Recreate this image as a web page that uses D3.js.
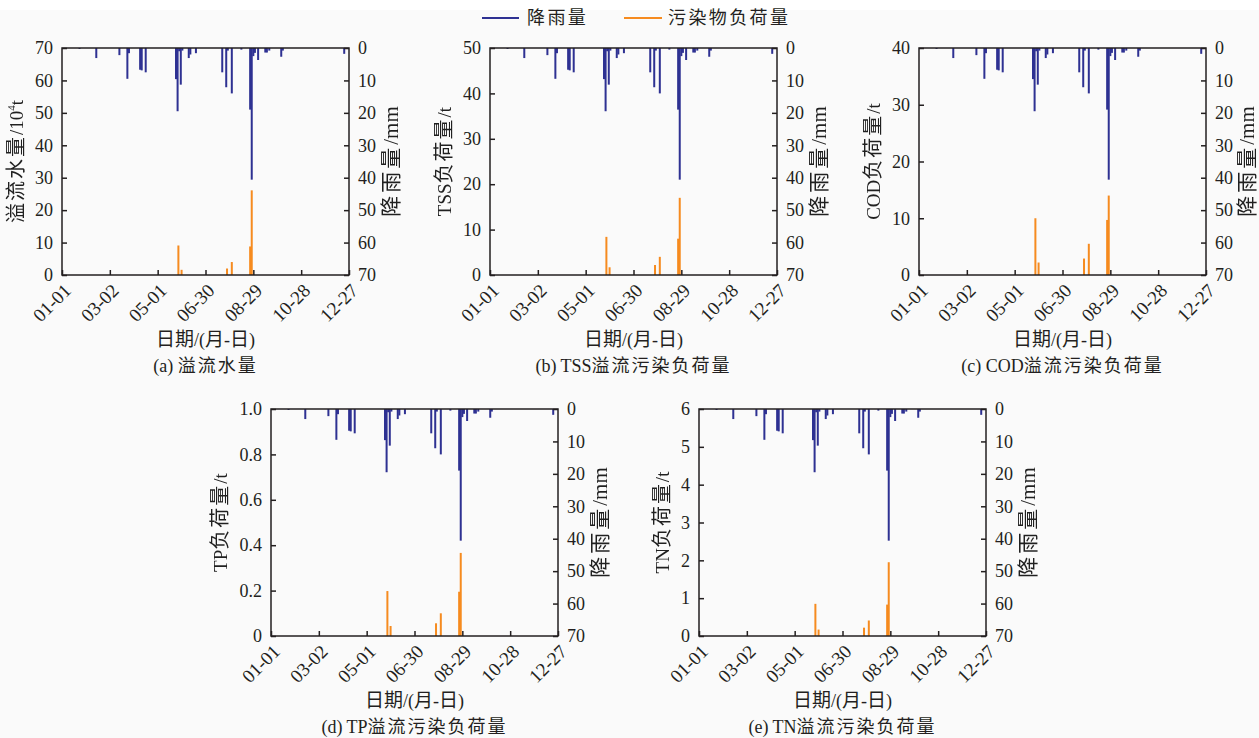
<!DOCTYPE html>
<html><head><meta charset="utf-8">
<script src="https://cdn.jsdelivr.net/npm/d3@7/dist/d3.min.js"></script>
<style>body{margin:0;background:#fafafa} svg{display:block}</style>
</head><body><svg id="c" width="1259" height="738"></svg>
<script>
// ---- data ----
const xTickDays = [0, 60, 120, 180, 240, 300, 360];
const xTickLabels = ["01-01", "03-02", "05-01", "06-30", "08-29", "10-28", "12-27"];
const rainTicks = [0, 10, 20, 30, 40, 50, 60, 70];
// day of year (0 = 01-01) and daily rainfall (mm)
const rainDays = [22, 43, 72, 82, 84, 98, 100, 105, 143, 145, 147, 149, 151, 159, 161, 168,
                  201, 206, 208, 213, 225, 236, 238, 240, 242, 246, 255, 257, 260, 275, 277, 354];
const rainMM   = [0.3, 3.1, 2.2, 9.5, 1.6, 6.7, 6.9, 7.5, 9.6, 19.5, 1.0, 11.3, 0.8, 3.1, 2.0, 1.6,
                  7.5, 12.1, 0.8, 14.0, 0.5, 19.0, 40.6, 2.5, 1.5, 3.7, 1.4, 1.4, 0.8, 2.7, 0.8, 1.8];
// overflow events
const loadDays = [146, 150, 207, 213, 236, 238];
const overflowWater = [9.1, 1.6, 2.0, 4.0, 8.8, 26.1];   // 10^4 t
const tssLoad = [8.4, 1.7, 2.2, 4.0, 8.0, 17.0];          // t
const codLoad = [10.0, 2.2, 2.9, 5.5, 9.7, 14.0];         // t
const tpLoad  = [0.198, 0.044, 0.056, 0.10, 0.195, 0.366];// t
const tnLoad  = [0.85, 0.17, 0.22, 0.41, 0.83, 1.95];     // t

const legendNames = ["降雨量", "污染物负荷量"];
const xTitle = "日期/(月-日)";
const rainTitle = "降雨量/mm";

const panels = [
  {left: 62,  top: 48,  yMax: 70, yTicks: [0,10,20,30,40,50,60,70], fmt: d => d, ylabel: ["溢流水量/10", "4", "t"], title: "(a) 溢流水量", values: overflowWater},
  {left: 490, top: 48,  yMax: 50, yTicks: [0,10,20,30,40,50], fmt: d => d, ylabel: ["TSS负荷量/t"], title: "(b) TSS溢流污染负荷量", values: tssLoad},
  {left: 919, top: 48,  yMax: 40, yTicks: [0,10,20,30,40], fmt: d => d, ylabel: ["COD负荷量/t"], title: "(c) COD溢流污染负荷量", values: codLoad},
  {left: 271, top: 409, yMax: 1.0, yTicks: [0,0.2,0.4,0.6,0.8,1.0], fmt: d => d === 0 ? "0" : d3.format(".1f")(d), ylabel: ["TP负荷量/t"], title: "(d) TP溢流污染负荷量", values: tpLoad},
  {left: 699, top: 409, yMax: 6, yTicks: [0,1,2,3,4,5,6], fmt: d => d, ylabel: ["TN负荷量/t"], title: "(e) TN溢流污染负荷量", values: tnLoad}
];

const W = 287, H = 227;
const BLUE = "#2e3192", ORANGE = "#f68b1f", INK = "#231f20";
const SERIF = "'Liberation Serif','Times New Roman',serif";
const CJK = "'Noto Sans CJK SC','Noto Sans CJK TC',sans-serif";
const cjkRe = /[\u3000-\u9fff\uff00-\uffef]+|[^\u3000-\u9fff\uff00-\uffef]+/g;
const isCJK = s => /[\u3000-\u9fff\uff00-\uffef]/.test(s);

// add text as runs: CJK runs in CJK font, Latin runs in serif
function runs(sel, str, cjkSize, latSize, cjkSpacing) {
  (str.match(cjkRe) || []).forEach(r => {
    const c = isCJK(r);
    sel.append("tspan")
      .attr("font-family", c ? CJK : SERIF)
      .attr("font-size", c ? cjkSize : latSize)
      .attr("letter-spacing", c ? cjkSpacing : 0)
      .text(r);
  });
}

const svg = d3.select("#c");
// grayscale filter for rotated labels (avoids colour fringes)
const defs = svg.append("defs");
defs.append("filter").attr("id", "gray").attr("x", "-10%").attr("y", "-10%").attr("width", "120%").attr("height", "120%")
  .append("feColorMatrix").attr("type", "saturate").attr("values", 0);

svg.append("rect").attr("width", 1259).attr("height", 738).attr("fill", "#fafafa");
svg.append("rect").attr("width", 1259).attr("height", 10).attr("fill", "#ffffff");

// legend
const lg = svg.append("g").attr("fill", INK);
[[482, 519, 527, BLUE], [624, 662, 668, ORANGE]].forEach((p, i) => {
  lg.append("line").attr("x1", p[0]).attr("x2", p[1]).attr("y1", 18).attr("y2", 18)
    .attr("stroke", p[3]).attr("stroke-width", 2);
  const t = lg.append("text").attr("x", p[2]).attr("y", 18).attr("dy", "0.35em");
  runs(t, legendNames[i], 18, 18, 2.4);
});

panels.forEach(p => {
  const g = svg.append("g").attr("transform", `translate(${p.left},${p.top})`)
    .attr("font-family", SERIF).attr("fill", INK);
  const x = d3.scaleLinear().domain([0, 360]).range([0, W]);
  const y = d3.scaleLinear().domain([0, p.yMax]).range([H, 0]);
  const yr = d3.scaleLinear().domain([0, 70]).range([0, H]);
  const bw = 2;

  // rainfall bars hanging from top
  g.append("g").selectAll("rect").data(rainDays.map((d, i) => ({d, v: rainMM[i]})))
    .join("rect")
    .attr("x", d => x(d.d) - bw / 2).attr("y", 0)
    .attr("width", bw).attr("height", d => yr(d.v))
    .attr("fill", BLUE);

  // load bars from bottom
  g.append("g").selectAll("rect").data(loadDays.map((d, i) => ({d, v: p.values[i]})))
    .join("rect")
    .attr("x", d => x(d.d) - bw / 2).attr("y", d => y(d.v))
    .attr("width", bw).attr("height", d => H - y(d.v))
    .attr("fill", ORANGE);

  // frame
  g.append("rect").attr("width", W).attr("height", H).attr("fill", "none")
    .attr("stroke", INK).attr("stroke-width", 1.5);

  // left axis
  const ya = g.append("g").call(d3.axisLeft(y).tickValues(p.yTicks).tickFormat(p.fmt)
    .tickSizeInner(-5).tickSizeOuter(0).tickPadding(9));
  // right axis
  const yra = g.append("g").attr("transform", `translate(${W},0)`)
    .call(d3.axisRight(yr).tickValues(rainTicks).tickSizeInner(-5).tickSizeOuter(0).tickPadding(9));
  // bottom axis
  const xa = g.append("g").attr("transform", `translate(0,${H})`)
    .call(d3.axisBottom(x).tickValues(xTickDays).tickFormat((d, i) => xTickLabels[i])
      .tickSizeInner(-5).tickSizeOuter(0));
  [ya, yra, xa].forEach(a => {
    a.select(".domain").remove();
    a.selectAll("line").attr("stroke", INK).attr("stroke-width", 1.5);
    a.selectAll("text").attr("font-family", SERIF).attr("font-size", 18).attr("fill", INK);
  });
  xa.selectAll(".tick text")
    .attr("font-size", 19)
    .attr("text-anchor", "end").attr("x", 0).attr("y", 0).attr("dy", "0.35em")
    .attr("transform", `translate(5,12) rotate(-45)`);

  // left label
  let maxW = 0;
  ya.selectAll("text").each(function() { maxW = Math.max(maxW, this.getBBox().width); });
  const lx = -9 - maxW - 18;
  const ylg = g.append("g").attr("filter", "url(#gray)");
  const yl = ylg.append("text").attr("transform", `translate(${lx},${H / 2}) rotate(-90)`)
    .attr("text-anchor", "middle").attr("dy", "0.35em");
  runs(yl, p.ylabel[0], 20, 19, 2);
  if (p.ylabel.length > 1) {
    yl.append("tspan").attr("font-family", SERIF).attr("font-size", 11).attr("dy", -8).text(p.ylabel[1]);
    yl.append("tspan").attr("font-family", SERIF).attr("font-size", 19).attr("dy", 8).text(p.ylabel[2]);
  }
  // right label (kept inside the page)
  const rx = Math.min(W + 43, 1259 - p.left - 11);
  const rl = g.append("g").attr("filter", "url(#gray)")
    .append("text").attr("transform", `translate(${rx},${H / 2}) rotate(-90)`)
    .attr("text-anchor", "middle").attr("dy", "0.35em");
  runs(rl, rainTitle, 21, 21, 3);

  // x title
  const xt = g.append("text").attr("x", W / 2).attr("y", H + 65).attr("dy", "0.35em")
    .attr("text-anchor", "middle");
  runs(xt, xTitle, 19, 18, 0);
  // subtitle
  const st = g.append("text").attr("x", W / 2).attr("y", H + 92).attr("dy", "0.32em")
    .attr("text-anchor", "middle");
  runs(st, p.title, 18, 18, 2);
});
</script></body></html>
